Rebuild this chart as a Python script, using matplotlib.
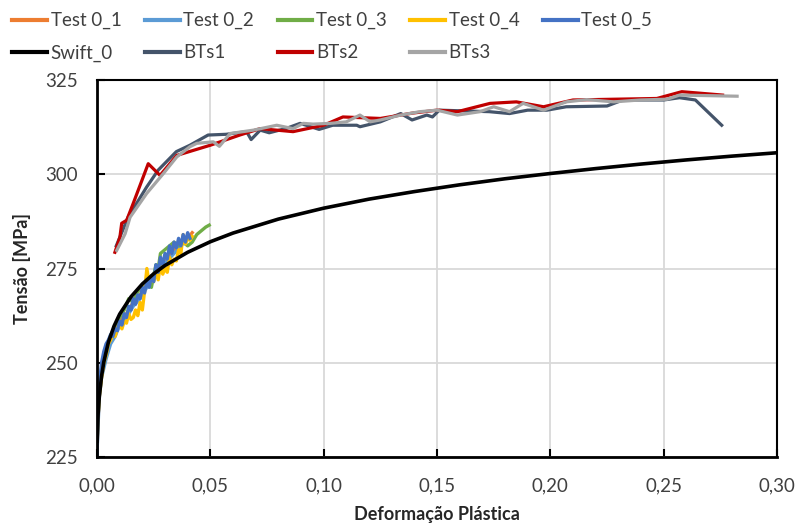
import matplotlib
matplotlib.use("Agg")
import matplotlib.pyplot as plt
from matplotlib.ticker import FuncFormatter

plt.rcParams['font.family'] = ['Lato', 'DejaVu Sans']

# ---------------- data ----------------
t01_x = [0, 0.001, 0.002, 0.004, 0.006, 0.008, 0.010, 0.013, 0.016, 0.019, 0.022, 0.025, 0.028, 0.031, 0.034, 0.037, 0.040, 0.042]
t01_y = [227, 242, 247, 252, 256, 258, 261, 263, 266, 268, 271, 273, 276, 278, 280, 282, 283, 284.5]

t02_x = [0, 0.001, 0.002, 0.004, 0.006, 0.008, 0.010, 0.013, 0.016, 0.019, 0.022, 0.025, 0.028, 0.031, 0.034, 0.037, 0.040]
t02_y = [226, 241, 246, 251, 255, 257, 260, 262, 265, 267, 270, 272, 275, 277, 279, 281, 283]

t03_x = [0, 0.001, 0.002, 0.004, 0.006, 0.008, 0.010, 0.012, 0.014, 0.016, 0.018, 0.020, 0.022, 0.024,
         0.025, 0.026, 0.027, 0.028, 0.030, 0.032, 0.034, 0.036, 0.038, 0.040, 0.042, 0.044, 0.046, 0.048, 0.0495]
t03_y = [230, 243, 248, 253, 257, 260, 262, 264, 267, 266, 269, 270, 272, 270,
         273, 276, 275, 279, 280, 281, 282, 281, 282, 281, 282, 284, 285, 286, 286.5]

t04_x = [0, 0.0005, 0.001, 0.002, 0.003, 0.004, 0.005, 0.006, 0.007, 0.008, 0.009, 0.010, 0.011, 0.012,
         0.013, 0.014, 0.015, 0.016, 0.017, 0.018, 0.019, 0.020, 0.021, 0.022, 0.023, 0.024, 0.025, 0.026,
         0.027, 0.028, 0.029, 0.030, 0.031, 0.032, 0.033, 0.034, 0.035, 0.036, 0.037, 0.038, 0.039, 0.040,
         0.041, 0.042]
t04_y = [227, 236, 241, 246, 250, 252, 255, 256, 257.5, 257, 259, 260, 259, 261,
         260.5, 263, 261.5, 262, 264, 262.5, 266, 264, 269, 275, 271, 273, 271.5, 274,
         272, 276, 273.5, 275, 274, 278, 276, 277.5, 277, 280, 279, 284, 281.5, 283,
         282.5, 283.5]

t05_x = [0, 0.0003, 0.0006, 0.001, 0.0015, 0.002, 0.003, 0.004, 0.005, 0.006, 0.007, 0.008, 0.009,
         0.010, 0.011, 0.012, 0.013, 0.014, 0.015, 0.016, 0.017, 0.018, 0.019, 0.020, 0.021, 0.022,
         0.023, 0.024, 0.025, 0.026, 0.027, 0.028, 0.029, 0.030, 0.031, 0.032, 0.033, 0.034, 0.035,
         0.036, 0.037, 0.038, 0.039, 0.040, 0.041]
t05_y = [225.5, 232, 238, 243, 247, 250, 253, 255, 256, 257.5, 257, 259, 258.5,
         261, 260, 263, 262, 265, 264, 267, 265.5, 268, 267, 270, 268.5, 272,
         270, 273, 271.5, 276, 274, 278, 276, 279, 277.5, 281, 279, 282, 280.5,
         283, 281, 284, 282, 284.5, 283]

swift_x = [0, 0.0005, 0.001, 0.002, 0.003, 0.005, 0.0075, 0.01, 0.015, 0.02, 0.025, 0.03, 0.04,
           0.05, 0.06, 0.08, 0.10, 0.12, 0.14, 0.16, 0.18, 0.20, 0.22, 0.24, 0.26, 0.28, 0.30]
swift_y = [229.2, 236.5, 240.8, 246.4, 250.2, 255.4, 259.7, 262.9, 267.5, 270.9, 273.6, 275.8, 279.3,
           282.1, 284.4, 288.1, 291.0, 293.4, 295.4, 297.2, 298.8, 300.2, 301.5, 302.7, 303.8, 304.8, 305.7]

bts1_x = [0.0085, 0.0137, 0.0219, 0.027, 0.035, 0.041, 0.049, 0.057, 0.066, 0.068, 0.072, 0.076, 0.0837,
          0.0896, 0.098, 0.104, 0.1146, 0.116, 0.125, 0.134, 0.139, 0.1455, 0.148, 0.151, 0.162, 0.173,
          0.182, 0.19, 0.1985, 0.207, 0.225, 0.232, 0.25, 0.257, 0.264, 0.2756]
bts1_y = [281.0, 288.6, 296.6, 301.1, 306.0, 307.7, 310.4, 310.6, 311.3, 309.2, 311.7, 311.0, 312.2,
          313.5, 311.9, 313.0, 313.0, 312.6, 313.9, 316.1, 314.4, 315.7, 315.2, 317.0, 316.8, 316.6,
          316.1, 317.0, 317.0, 317.9, 318.1, 319.7, 319.7, 320.3, 319.7, 313.0]

bts2_x = [0.0079, 0.0101, 0.0109, 0.0131, 0.016, 0.0226, 0.0278, 0.0352, 0.05, 0.063, 0.072, 0.0865,
          0.10, 0.1085, 0.125, 0.139, 0.15, 0.159, 0.1734, 0.185, 0.197, 0.21, 0.228, 0.247, 0.258, 0.276]
bts2_y = [279.3, 283.3, 287.0, 287.8, 292.3, 302.8, 299.7, 305.0, 307.7, 310.4, 312.1, 311.3,
          313.0, 315.2, 314.8, 316.2, 317.0, 316.6, 318.8, 319.2, 317.9, 319.7, 319.9, 320.1, 321.9, 321.0]

bts3_x = [0.0087, 0.0124, 0.0146, 0.0219, 0.0293, 0.0352, 0.041, 0.044, 0.0513, 0.054, 0.0587, 0.069,
          0.0793, 0.0865, 0.091, 0.0953, 0.103, 0.110, 0.116, 0.1205, 0.125, 0.134, 0.1425, 0.15, 0.159,
          0.169, 0.175, 0.182, 0.188, 0.197, 0.207, 0.216, 0.228, 0.2396, 0.2515, 0.257, 0.2824]
bts3_y = [279.8, 284.2, 288.6, 294.9, 300.2, 304.6, 307.3, 308.2, 308.6, 307.4, 310.8, 311.7,
          313.0, 312.1, 313.5, 313.3, 313.5, 313.9, 315.7, 313.9, 314.4, 315.7, 316.6, 317.0, 315.7,
          316.6, 317.9, 316.6, 318.8, 317.0, 319.2, 319.8, 319.2, 319.7, 319.9, 321.0, 320.7]

x_ticks = [0.00, 0.05, 0.10, 0.15, 0.20, 0.25, 0.30]
y_ticks = [225, 250, 275, 300, 325]

# ---------------- figure ----------------
fig = plt.figure(figsize=(7.98, 5.27), dpi=100)
ax = fig.add_axes([97/798, 1-457/527, 680/798, 377/527])

series = [
    (t01_x, t01_y, '#ED7D31', 2.4, 'Test 0_1'),
    (t02_x, t02_y, '#5B9BD5', 2.4, 'Test 0_2'),
    (t03_x, t03_y, '#70AD47', 2.4, 'Test 0_3'),
    (t04_x, t04_y, '#FFC000', 2.4, 'Test 0_4'),
    (t05_x, t05_y, '#4472C4', 2.4, 'Test 0_5'),
    (swift_x, swift_y, '#000000', 2.6, 'Swift_0'),
    (bts1_x, bts1_y, '#44546A', 2.3, 'BTs1'),
    (bts2_x, bts2_y, '#C00000', 2.3, 'BTs2'),
    (bts3_x, bts3_y, '#A5A5A5', 2.3, 'BTs3'),
]
handles = {}
for xs, ys, c, lw, lab in series:
    h, = ax.plot(xs, ys, color=c, lw=lw, label=lab, solid_joinstyle='round')
    handles[lab] = h

ax.set_xlim(0, 0.30)
ax.set_ylim(225, 325)
ax.set_xticks(x_ticks)
ax.set_yticks(y_ticks)
ax.xaxis.set_major_formatter(FuncFormatter(lambda v, p: f"{v:.2f}".replace('.', ',')))
ax.grid(True, color='#D9D9D9', lw=1.3)
ax.set_axisbelow(True)
for s in ax.spines.values():
    s.set_color('black')
    s.set_linewidth(1.5)
ax.spines['left'].set_linewidth(2.0)
ax.spines['bottom'].set_linewidth(2.0)
ax.tick_params(direction='in', length=6, width=1.5, labelsize=13.5, colors='black',
               labelcolor='#404040')
ax.tick_params(axis='y', pad=14)
ax.tick_params(axis='x', pad=15)

ax.set_xlabel('Deformação Plástica', fontsize=13, fontweight='bold', color='#262626', labelpad=8)
ax.set_ylabel('Tensão [MPa]', fontsize=13, fontweight='bold', color='#262626', labelpad=10)

order = ['Test 0_1', 'Swift_0', 'Test 0_2', 'BTs1', 'Test 0_3', 'BTs2', 'Test 0_4', 'BTs3', 'Test 0_5']
leg = fig.legend([handles[k] for k in order], order, ncol=5, loc='upper left',
                 bbox_to_anchor=(0.0, 1.0), frameon=False, fontsize=13.5,
                 handlelength=1.85, handletextpad=0.2, columnspacing=1.25,
                 labelspacing=0.8, borderaxespad=0.25)
for t in leg.get_texts():
    t.set_color('#404040')
for l in leg.get_lines():
    l.set_linewidth(3)

fig.savefig('out.png', dpi=100)
